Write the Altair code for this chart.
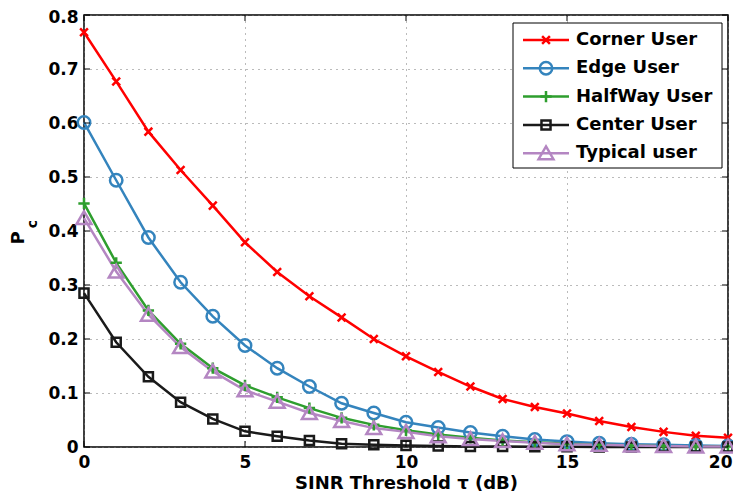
import altair as alt
import pandas as pd

# ---------------- data ----------------
tau = list(range(21))
names = ["Corner User", "Edge User", "HalfWay User", "Center User", "Typical user"]

corner = [0.768, 0.677, 0.584, 0.513, 0.447, 0.379, 0.324, 0.279, 0.240, 0.200, 0.168,
          0.139, 0.112, 0.089, 0.074, 0.062, 0.048, 0.037, 0.028, 0.021, 0.017]
edge = [0.601, 0.494, 0.388, 0.305, 0.242, 0.188, 0.146, 0.112, 0.081, 0.063, 0.046,
        0.036, 0.027, 0.020, 0.014, 0.010, 0.007, 0.005, 0.004, 0.003, 0.002]
halfway = [0.451, 0.341, 0.253, 0.191, 0.146, 0.114, 0.092, 0.072, 0.054, 0.041, 0.031,
           0.023, 0.017, 0.012, 0.009, 0.006, 0.004, 0.003, 0.002, 0.001, 0.001]
center = [0.285, 0.194, 0.130, 0.083, 0.052, 0.029, 0.020, 0.012, 0.006, 0.004, 0.003,
          0.002, 0.001, 0.001, 0.0005, 0.0003, 0.0002, 0.0001, 0.0001, 0.0, 0.0]
typical = [0.424, 0.325, 0.245, 0.185, 0.140, 0.105, 0.084, 0.063, 0.048, 0.035, 0.028,
           0.020, 0.015, 0.011, 0.008, 0.005, 0.004, 0.003, 0.002, 0.001, 0.001]

x_ticks = [0, 5, 10, 15, 20]
y_ticks = [0, 0.1, 0.2, 0.3, 0.4, 0.5, 0.6, 0.7, 0.8]

colors = ["#ff0000", "#3484bd", "#2e9e2e", "#1a1a1a", "#b486c2"]
shapes = [
    "M-0.55,-0.55L0.55,0.55M-0.55,0.55L0.55,-0.55",                       # x
    "M0.88,0A0.88,0.88 0 1,1 -0.88,0A0.88,0.88 0 1,1 0.88,0Z",            # circle
    "M-0.8,0L0.8,0M0,-0.8L0,0.8",                                          # plus
    "M-0.64,-0.64L0.64,-0.64L0.64,0.64L-0.64,0.64Z",                       # square
    "M0,-0.95L1.05,0.85L-1.05,0.85Z",                                      # triangle
]

rows = []
for n, vals in zip(names, [corner, edge, halfway, center, typical]):
    for t, v in zip(tau, vals):
        rows.append({"series": n, "tau": t, "pc": v})
df = pd.DataFrame(rows)

W, H = 644, 432
FONT = "DejaVu Sans"

xs = alt.Scale(domain=[0, 20], nice=False)
ys = alt.Scale(domain=[0, 0.8], nice=False)
color = alt.Color("series:N", scale=alt.Scale(domain=names, range=colors), legend=None)
shape = alt.Shape("series:N", scale=alt.Scale(domain=names, range=shapes), legend=None)

x_enc = alt.X("tau:Q", scale=xs,
              axis=alt.Axis(values=x_ticks, title="SINR Threshold τ (dB)", format="d",
                            labelAlign={"condition": {"test": "datum.value == 20", "value": "right"},
                                        "value": "center"},
                            labelOffset={"condition": {"test": "datum.value == 20", "value": 4},
                                         "value": 0}))
y_enc = alt.Y("pc:Q", scale=ys,
              axis=alt.Axis(values=y_ticks, title=None, format=".1~f",
                            labelOffset={"condition": {"test": "datum.value >= 0.79", "value": 2},
                                         "value": 0}))

lines = alt.Chart(df).mark_line(strokeWidth=2.5).encode(
    x=x_enc, y=y_enc, color=color, detail="series:N")
points = alt.Chart(df).mark_point(filled=False, strokeWidth=2.5, size=200, opacity=1).encode(
    x="tau:Q", y="pc:Q", color=color, shape=shape)

# inward ticks (MATLAB style)
xt = pd.DataFrame({"tau": x_ticks})
yt = pd.DataFrame({"pc": y_ticks})
tick_b = alt.Chart(xt).mark_rule(color="black", strokeWidth=1).encode(
    x=alt.X("tau:Q", scale=xs), y=alt.value(H), y2=alt.value(H - 6))
tick_t = alt.Chart(xt).mark_rule(color="black", strokeWidth=1).encode(
    x=alt.X("tau:Q", scale=xs), y=alt.value(0), y2=alt.value(6))
tick_l = alt.Chart(yt).mark_rule(color="black", strokeWidth=1).encode(
    y=alt.Y("pc:Q", scale=ys), x=alt.value(0), x2=alt.value(6))
tick_r = alt.Chart(yt).mark_rule(color="black", strokeWidth=1).encode(
    y=alt.Y("pc:Q", scale=ys), x=alt.value(W - 6), x2=alt.value(W))

# y-axis title P_c
one = pd.DataFrame({"a": [0]})
ytitle_p = alt.Chart(one).mark_text(text="P", angle=270, fontSize=18, fontWeight="bold",
                                    font=FONT, color="black", align="center",
                                    baseline="middle").encode(
    x=alt.value(-65), y=alt.value(223))
ytitle_c = alt.Chart(one).mark_text(text="c", angle=270, fontSize=14, fontWeight="bold",
                                    font=FONT, color="black", align="center",
                                    baseline="middle").encode(
    x=alt.value(-51), y=alt.value(209))

# manual legend
leg = pd.DataFrame({"series": names, "idx": list(range(len(names)))})
box = alt.Chart(one).mark_rect(fill="white", stroke="black", strokeWidth=1).encode(
    x=alt.value(429), x2=alt.value(638), y=alt.value(8), y2=alt.value(153))
legbase = alt.Chart(leg).transform_calculate(ly="25 + 28.3*datum.idx")
leg_line = legbase.mark_rule(strokeWidth=2.5).encode(
    x=alt.value(439), x2=alt.value(485), y=alt.Y("ly:Q", scale=None), color=color)
leg_pt = legbase.mark_point(filled=False, strokeWidth=2.5, size=200, opacity=1).encode(
    x=alt.value(462), y=alt.Y("ly:Q", scale=None), color=color, shape=shape)
leg_txt = legbase.mark_text(align="left", baseline="middle", fontSize=18, fontWeight="bold",
                            font=FONT, color="black").encode(
    x=alt.value(492), y=alt.Y("ly:Q", scale=None), text="series:N")

chart = alt.layer(
    lines, points, tick_b, tick_t, tick_l, tick_r, ytitle_p, ytitle_c,
    box, leg_line, leg_pt, leg_txt
).properties(
    width=W, height=H, autosize="none",
    padding={"left": 76, "top": 7, "right": 5, "bottom": 46},
).configure_view(
    stroke="black", strokeWidth=1.5
).configure_axis(
    domain=False, ticks=False, grid=True, labelFlush=False,
    gridColor="#777777", gridDash=[1, 5], gridWidth=1,
    labelFont=FONT, labelFontSize=17, labelFontWeight="bold", labelColor="black",
    titleFont=FONT, titleFontSize=18, titleFontWeight="bold", titleColor="black",
).configure_axisX(
    labelPadding=7, titlePadding=4
).configure_axisY(
    labelPadding=6
)

chart.save("out.html", embed_options={"renderer": "svg", "actions": False})
